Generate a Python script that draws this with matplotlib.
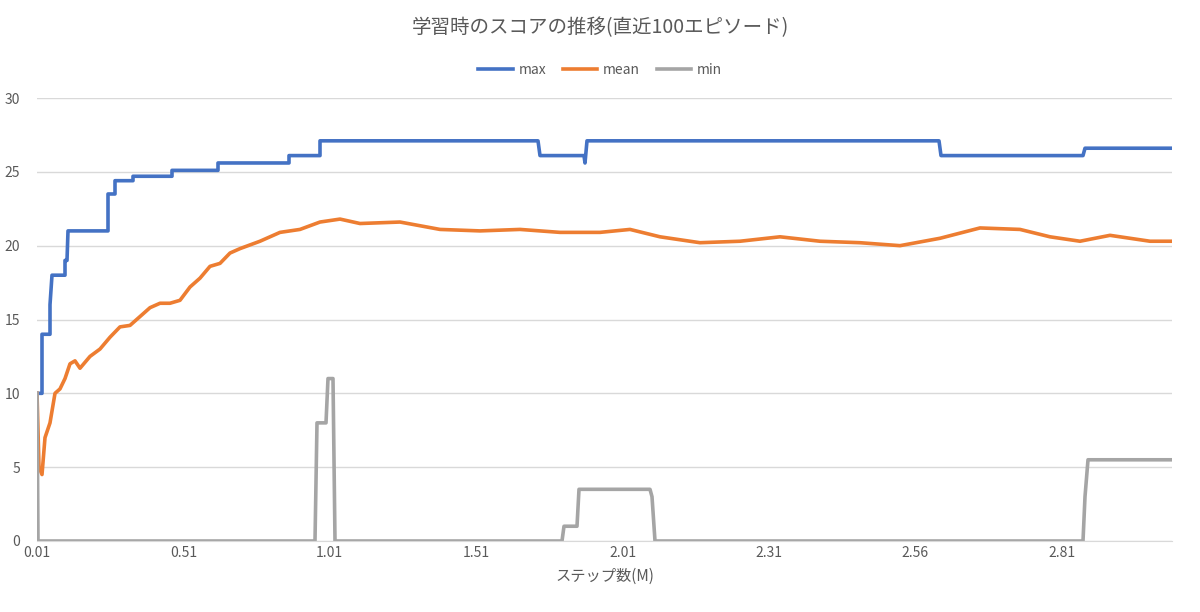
import matplotlib
matplotlib.use("Agg")
import matplotlib.pyplot as plt
import numpy as np

plt.rcParams['font.family'] = ['Noto Sans CJK JP', 'DejaVu Sans']

tick_labels = ["0.01", "0.51", "1.01", "1.51", "2.01", "2.31", "2.56", "2.81"]
# positions (pixel columns), converted to tick-index units below
PX0, PXSTEP = 37.0, 146.4

max_px = [37, 42, 42, 50, 50, 52, 53, 65, 65, 67, 68, 108, 108, 111, 115, 115, 133, 133, 172, 172, 218, 218, 289, 289, 320, 320, 538, 540, 584, 585, 587, 939, 941, 1083, 1085, 1172]
max_val = [10, 10, 14, 14, 16, 18, 18, 18, 19, 19, 21, 21, 23.5, 23.5, 23.5, 24.4, 24.4, 24.7, 24.7, 25.1, 25.1, 25.6, 25.6, 26.1, 26.1, 27.1, 27.1, 26.1, 26.1, 25.6, 27.1, 27.1, 26.1, 26.1, 26.6, 26.6]

min_px = [37, 38, 315, 317, 326, 328, 333, 335, 562, 564, 577, 579, 650, 652, 655, 1083, 1085, 1088, 1172]
min_val = [10, 0, 0, 8, 8, 11, 11, 0, 0, 1, 1, 3.5, 3.5, 3, 0, 0, 3, 5.5, 5.5]

mean_px = [37, 39, 42, 45, 50, 55, 60, 65, 70, 75, 80, 90, 100, 110, 120, 130, 140, 150, 160, 170, 180, 190, 200, 210, 220, 230, 240, 260, 280, 300, 320, 340, 360, 400, 440, 480, 520, 560, 600, 630, 660, 700, 740, 780, 820, 860, 900, 940, 980, 1020, 1050, 1080, 1110, 1150, 1172]
mean_val = [10, 5, 4.5, 7, 8, 10, 10.3, 11, 12, 12.2, 11.7, 12.5, 13, 13.8, 14.5, 14.6, 15.2, 15.8, 16.1, 16.1, 16.3, 17.2, 17.8, 18.6, 18.8, 19.5, 19.8, 20.3, 20.9, 21.1, 21.6, 21.8, 21.5, 21.6, 21.1, 21.0, 21.1, 20.9, 20.9, 21.1, 20.6, 20.2, 20.3, 20.6, 20.3, 20.2, 20.0, 20.5, 21.2, 21.1, 20.6, 20.3, 20.7, 20.3, 20.3]

def conv(p):
    return (np.array(p, float) - PX0) / PXSTEP

fig = plt.figure(figsize=(12, 6.12), dpi=100)
ax = fig.add_axes([37/1200, 71/612, (1172-37)/1200, (541-98)/612])
ax.plot(conv(max_px), max_val, color="#4472C4", lw=2.6, label="max")
ax.plot(conv(mean_px), mean_val, color="#ED7D31", lw=2.6, label="mean")
ax.plot(conv(min_px), min_val, color="#A5A5A5", lw=2.6, label="min")
ax.set_xlim(0, conv([1172])[0])
ax.set_ylim(0, 30)
ax.set_yticks(range(0, 31, 5))
ax.set_xticks(range(len(tick_labels)))
ax.set_xticklabels(tick_labels)
ax.grid(axis='y', color="#D9D9D9", lw=1)
ax.set_axisbelow(True)
for s in ['top', 'right', 'left']:
    ax.spines[s].set_visible(False)
ax.spines['bottom'].set_color("#D9D9D9")
ax.tick_params(length=0, colors="#595959", labelsize=10)
ax.tick_params(axis='y', pad=12)
ax.set_xlabel("ステップ数(M)", color="#595959", fontsize=11, labelpad=6)
fig.text(0.5, 1-28/612, "学習時のスコアの推移(直近100エピソード)", ha='center', va='center', color="#595959", fontsize=14)
fig.legend(loc='center', bbox_to_anchor=(0.5, 1-70/612), ncol=3, frameon=False, fontsize=10, labelcolor="#595959", handlelength=2.5, columnspacing=1.2, handletextpad=0.4)
fig.savefig("out.png", dpi=100)
